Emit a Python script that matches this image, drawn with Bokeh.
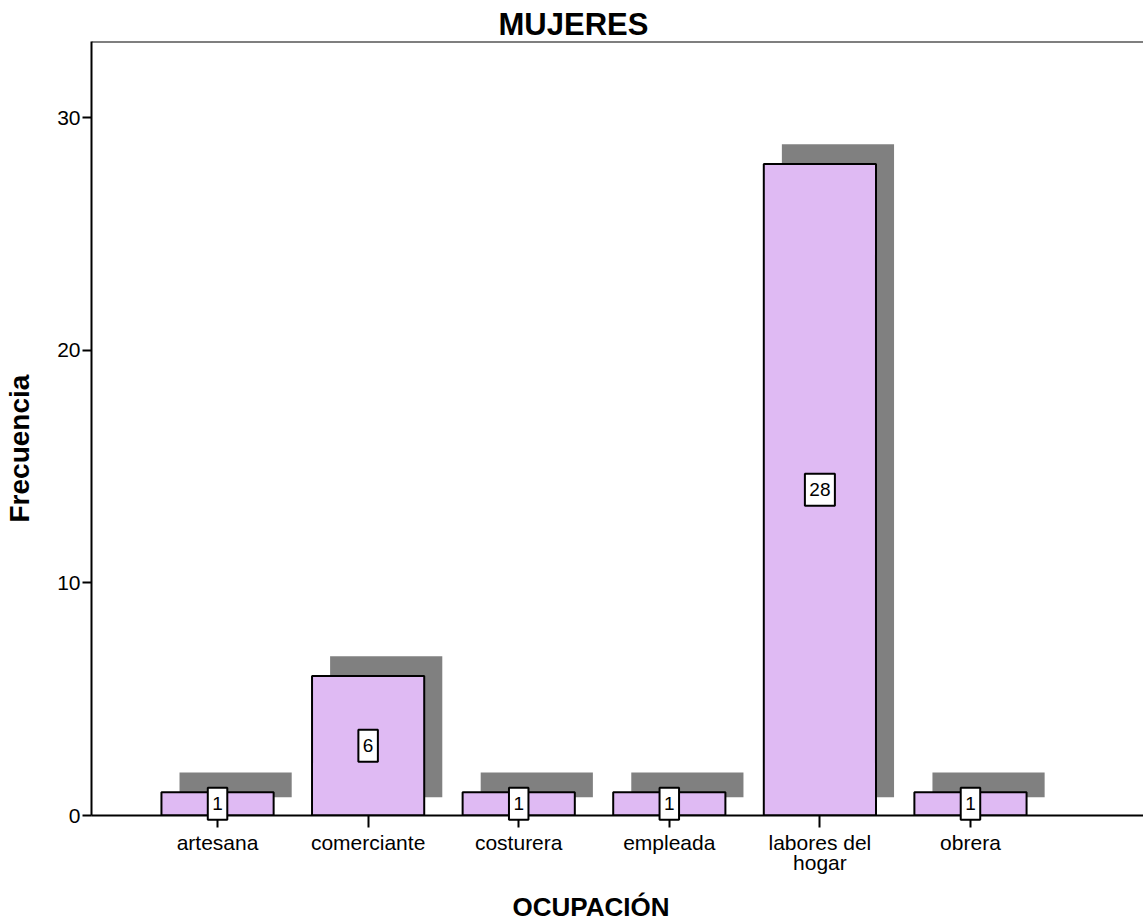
from bokeh.plotting import figure
from bokeh.models import ColumnDataSource, FixedTicker, Span, Title, Range1d
from bokeh.core.properties import value
from bokeh.embed import file_html
from bokeh.resources import INLINE

categories = ["artesana", "comerciante", "costurera", "empleada", "labores del hogar", "obrera"]
tick_labels = ["artesana", "comerciante", "costurera", "empleada", "labores del\nhogar", "obrera"]
frecuencia = [1, 6, 1, 1, 28, 1]
y_ticks = [0, 10, 20, 30]

FONT = "Liberation Sans"
BAR_W = 0.745
SH_DX = 0.12
SH_DY = 0.85
SH_BOTTOM = 0.78
Y_MAX = 33.27

pos = list(range(1, len(categories) + 1))
src = ColumnDataSource(dict(
    x=pos,
    top=frecuencia,
    mid=[v / 2 for v in frecuencia],
    label=[str(v) for v in frecuencia],
    bw=[9 + 10.5 * len(str(v)) for v in frecuencia],
    sx=[q + SH_DX for q in pos],
    stop=[v + SH_DY for v in frecuencia],
))

p = figure(width=1143, height=921,
           x_range=Range1d(0.163, 7.149), y_range=Range1d(0, Y_MAX),
           output_backend="svg", toolbar_location=None,
           min_border_left=91, min_border_right=0, min_border_top=41, min_border_bottom=106)
p.outline_line_color = None
p.grid.visible = False
p.background_fill_color = "white"

p.vbar(x="sx", top="stop", bottom=SH_BOTTOM, width=BAR_W, source=src,
       fill_color="#808080", line_color=None)
p.vbar(x="x", top="top", bottom=0, width=BAR_W, source=src,
       fill_color="#DFBAF3", line_color="black", line_width=2)

box = p.rect(x="x", y="mid", width="bw", height=32, width_units="screen", height_units="screen",
             source=src, fill_color="white", line_color="black", line_width=2)
box.level = "overlay"
txt = p.text(x="x", y="mid", text="label", source=src, text_align="center", text_baseline="middle",
             text_font=value(FONT), text_font_size="19px", text_color="black")
txt.level = "overlay"

p.add_layout(Span(location=Y_MAX, dimension="width", line_color="black", line_width=2))

# axes
xa = p.xaxis[0]
xa.ticker = FixedTicker(ticks=pos)
xa.major_label_overrides = {q: t for q, t in zip(pos, tick_labels)}
ya = p.yaxis[0]
ya.ticker = FixedTicker(ticks=y_ticks)
for ax in (xa, ya):
    ax.axis_line_width = 2
    ax.axis_line_color = "black"
    ax.major_tick_line_width = 2
    ax.major_tick_line_color = "black"
    ax.major_tick_in = 0
    ax.minor_tick_line_color = None
    ax.major_label_text_font = FONT
    ax.major_label_text_font_size = "21px"
    ax.major_label_text_color = "black"
    ax.axis_label = " "
    ax.axis_label_text_font_size = "1px"
xa.major_tick_out = 12
xa.major_label_standoff = 3
xa.major_label_text_line_height = 0.9
xa.axis_label_standoff = 10
ya.major_tick_out = 9
ya.major_label_standoff = 2
ya.axis_label_standoff = 16

p.title.text = "MUJERES"
p.title.text_font = FONT
p.title.text_font_size = "31px"
p.title.text_font_style = "bold"
p.title.text_color = "black"
p.title.align = "left"
p.title.offset = 407
p.title.standoff = 0

xt = Title(text="OCUPACIÓN", align="left", offset=421, text_font=FONT, text_color="black",
           text_font_size="26px", text_font_style="bold", standoff=-4, text_line_height=1.0)
p.add_layout(xt, "below")
yt = Title(text="Frecuencia", align="left", offset=293, text_font=FONT, text_color="black",
           text_font_size="28px", text_font_style="bold", standoff=0)
p.add_layout(yt, "left")

open("out.html", "w").write(file_html(p, INLINE))
